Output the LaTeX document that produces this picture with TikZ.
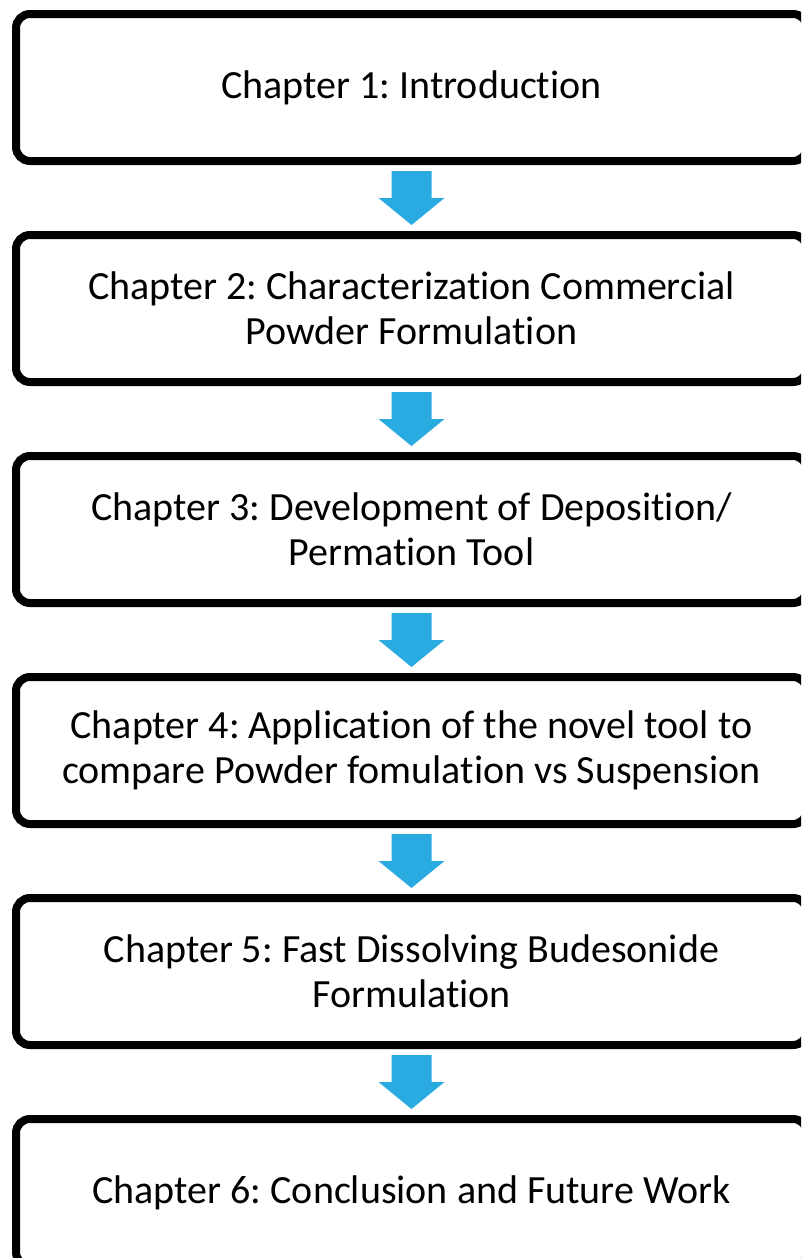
\documentclass[tikz,border=0pt]{standalone}
\usepackage{fontspec}
\setmainfont{Carlito}[Ligatures=NoCommon]
\usetikzlibrary{calc}
\definecolor{arrowblue}{RGB}{41,171,226}
\frenchspacing
\tikzset{
  chapbox/.style={draw=black, line width=8pt, rounded corners=14pt, fill=white,
    minimum width=791pt, minimum height=147pt, align=center, inner sep=0pt,
    font=\fontsize{40}{45}\selectfont},
  downarrow/.style={fill=arrowblue}
}
\begin{document}
\frenchspacing
\begin{tikzpicture}[x=1pt,y=-1pt]
\useasboundingbox (0,0) rectangle (801,1258);
\clip (0,0) rectangle (801,1258);
\node[chapbox] (b1) at (411.5,87.5) {Chapter 1: Introduction};
\node[chapbox] (b2) at (411.5,308.5) {Chapter 2: Characterization Commercial\\Powder Formulation};
\node[chapbox] (b3) at (411.5,529.5) {Chapter 3: Development of Deposition/\\Permation Tool};
\node[chapbox] (b4) at (411.5,750.5) {Chapter 4: Application of the novel tool to\\compare Powder fomulation vs Suspension};
\node[chapbox] (b5) at (411.5,971.5) {Chapter 5: Fast Dissolving Budesonide\\Formulation};
\node[chapbox] (b6) at (411.5,1192.5) {Chapter 6: Conclusion and Future Work};
\foreach \a/\b in {b1/b2,b2/b3,b3/b4,b4/b5,b5/b6}{
  \path (\a.south) -- (\b.north) coordinate[midway] (m\a);
  \fill[downarrow] (m\a) ++(-20,-27) -- ++(40,0) -- ++(0,27) -- ++(13,0)
     -- ++(-33,27) -- ++(-33,-27) -- ++(13,0) -- cycle;
}
\end{tikzpicture}
\end{document}
